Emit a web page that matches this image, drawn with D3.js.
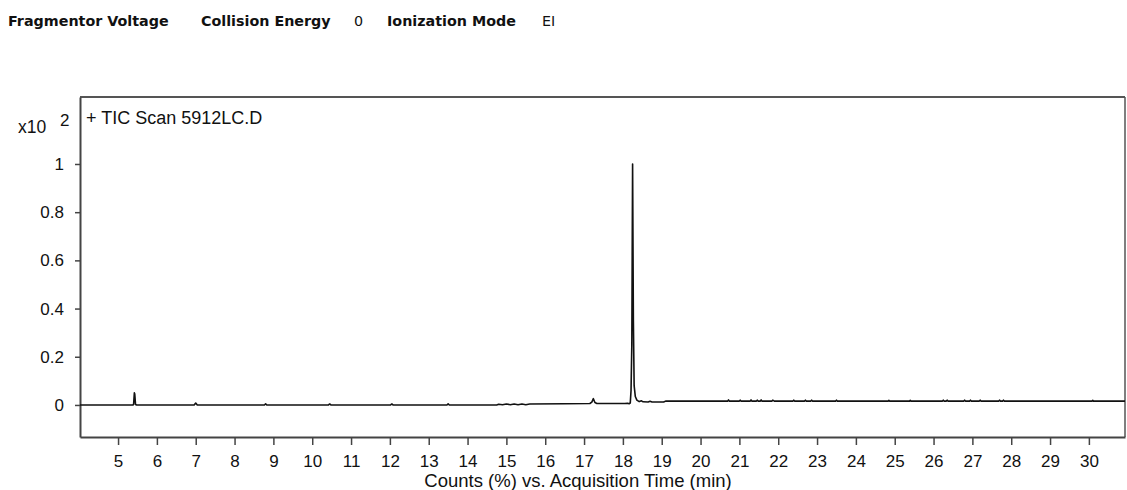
<!DOCTYPE html>
<html>
<head>
<meta charset="utf-8">
<script src="https://cdn.jsdelivr.net/npm/d3@7"></script>
<style>
  body { margin: 0; background: #fff; }
  svg { display: block; }
  .hdr { font-family: "DejaVu Sans", Verdana, sans-serif; font-size: 14.3px; fill: #111; }
  .hdr.b { font-weight: bold; }
  .lbl { font-family: "Liberation Sans", Arial, sans-serif; fill: #111; }
  .axis text { font-family: "Liberation Sans", Arial, sans-serif; font-size: 17px; fill: #111; }
  .axis path, .axis line { stroke: #444; }
</style>
</head>
<body>
<svg id="chart" width="1127" height="490"></svg>
<script>
// retention time (min) and relative counts (x10^2 %)
const rt = [
  4.02, 5.38, 5.40, 5.42, 5.43, 5.45, 5.48,
  6.96, 7.00, 7.04, 8.77, 8.80, 8.83, 10.42, 10.45, 10.48,
  12.02, 12.05, 12.08, 13.47, 13.50, 13.53,
  14.75, 14.80, 14.90, 15.00, 15.10, 15.20, 15.30, 15.40, 15.50, 15.60,
  16.50, 17.15, 17.20, 17.24, 17.28, 17.33,
  18.05, 18.12, 18.16, 18.19, 18.21, 18.23, 18.25, 18.27, 18.29, 18.32, 18.36,
  18.42, 18.48, 18.52, 18.65, 18.70, 18.75, 19.05, 19.10, 19.50,
  20.70, 20.72, 20.74, 21.00, 21.02, 21.04, 21.28, 21.30, 21.32, 21.44, 21.46, 21.48,
  21.54, 21.56, 21.58, 21.84, 21.86, 21.90, 21.92, 22.38, 22.40, 22.42,
  22.68, 22.70, 22.72, 22.84, 22.86, 22.88, 23.48, 23.50, 23.52,
  24.83, 24.85, 24.87, 25.38, 25.40, 25.42, 26.23, 26.25, 26.27, 26.33, 26.35, 26.37,
  26.78, 26.80, 26.82, 26.93, 26.95, 26.97, 27.18, 27.20, 27.22,
  27.68, 27.70, 27.72, 27.78, 27.80, 27.82, 30.08, 30.10, 30.12, 30.93
];
const counts = [
  0, 0, 0.002, 0.05, 0.045, 0.002, 0,
  0, 0.008, 0, 0, 0.005, 0, 0, 0.004, 0,
  0, 0.004, 0, 0, 0.005, 0,
  0, 0.003, 0.001, 0.004, 0.001, 0.004, 0.001, 0.004, 0.001, 0.004,
  0.005, 0.006, 0.012, 0.026, 0.01, 0.006,
  0.006, 0.007, 0.005, 0.008, 0.06, 0.25, 1.0, 0.35, 0.08, 0.035, 0.02,
  0.014, 0.017, 0.013, 0.012, 0.015, 0.012, 0.012, 0.016, 0.016,
  0.016, 0.021, 0.016, 0.016, 0.02, 0.016, 0.016, 0.021, 0.016, 0.016, 0.02, 0.016,
  0.016, 0.021, 0.016, 0.016, 0.02, 0.016, 0.016, 0.016, 0.02, 0.016,
  0.016, 0.02, 0.016, 0.016, 0.02, 0.016, 0.016, 0.02, 0.016,
  0.016, 0.019, 0.016, 0.016, 0.019, 0.016, 0.016, 0.02, 0.016, 0.016, 0.02, 0.016,
  0.016, 0.02, 0.016, 0.016, 0.02, 0.016, 0.016, 0.02, 0.016,
  0.016, 0.02, 0.016, 0.016, 0.02, 0.016, 0.016, 0.019, 0.016, 0.016
];
const xTicks = d3.range(5, 31);
const yTicks = [0, 0.2, 0.4, 0.6, 0.8, 1];

const svg = d3.select("#chart");
const plotL = 80, plotR = 1125, plotT = 97, plotB = 437;

const x = d3.scaleLinear().domain([4.02, 30.93]).range([plotL, plotR]);
const y = d3.scaleLinear().domain([-0.133, 1.278]).range([plotB, plotT]);

// header line
const hdr = [
  { t: "Fragmentor Voltage", x: 8, b: true },
  { t: "Collision Energy", x: 201, b: true },
  { t: "0", x: 354, b: false },
  { t: "Ionization Mode", x: 387, b: true },
  { t: "EI", x: 542, b: false }
];
svg.selectAll(".hdr").data(hdr).enter().append("text")
  .attr("class", d => d.b ? "hdr b" : "hdr")
  .attr("x", d => d.x).attr("y", 26)
  .text(d => d.t);

// frame
svg.append("line").attr("x1", plotL).attr("x2", plotR).attr("y1", plotT).attr("y2", plotT)
  .attr("stroke", "#555").attr("stroke-width", 2);
svg.append("line").attr("x1", plotR).attr("x2", plotR).attr("y1", plotT).attr("y2", plotB)
  .attr("stroke", "#555").attr("stroke-width", 1.5);

const xAxis = svg.append("g").attr("class", "axis")
  .attr("transform", `translate(0,${plotB})`)
  .call(d3.axisBottom(x).tickValues(xTicks).tickSize(8).tickPadding(9.5).tickSizeOuter(0));
xAxis.select(".domain").attr("stroke-width", 2);
xAxis.selectAll(".tick line").attr("stroke-width", 1.5);

const yAxis = svg.append("g").attr("class", "axis")
  .attr("transform", `translate(${plotL},0)`)
  .call(d3.axisLeft(y).tickValues(yTicks).tickFormat(d3.format("~g")).tickSize(5).tickPadding(11).tickSizeOuter(0));
yAxis.select(".domain").attr("stroke-width", 2);
yAxis.selectAll(".tick line").attr("stroke-width", 1.5);

// exponent label
svg.append("text").attr("class", "lbl").attr("x", 18).attr("y", 133)
  .style("font-size", "17.5px").text("x10");
svg.append("text").attr("class", "lbl").attr("x", 60).attr("y", 126)
  .style("font-size", "17px").text("2");

// trace label
svg.append("text").attr("class", "lbl").attr("x", 86).attr("y", 124)
  .style("font-size", "18px").text("+ TIC Scan 5912LC.D");

// x title
svg.append("text").attr("class", "lbl").attr("x", 578).attr("y", 487)
  .attr("text-anchor", "middle").style("font-size", "18.5px")
  .text("Counts (%) vs. Acquisition Time (min)");

// chromatogram trace
const pts = rt.map((t, i) => [t, counts[i]]);
const line = d3.line().x(d => x(d[0])).y(d => y(d[1]));
svg.append("path").datum(pts)
  .attr("d", line)
  .attr("fill", "none")
  .attr("stroke", "#111")
  .attr("stroke-width", 1.6)
  .attr("stroke-linejoin", "round");
</script>
</body>
</html>
